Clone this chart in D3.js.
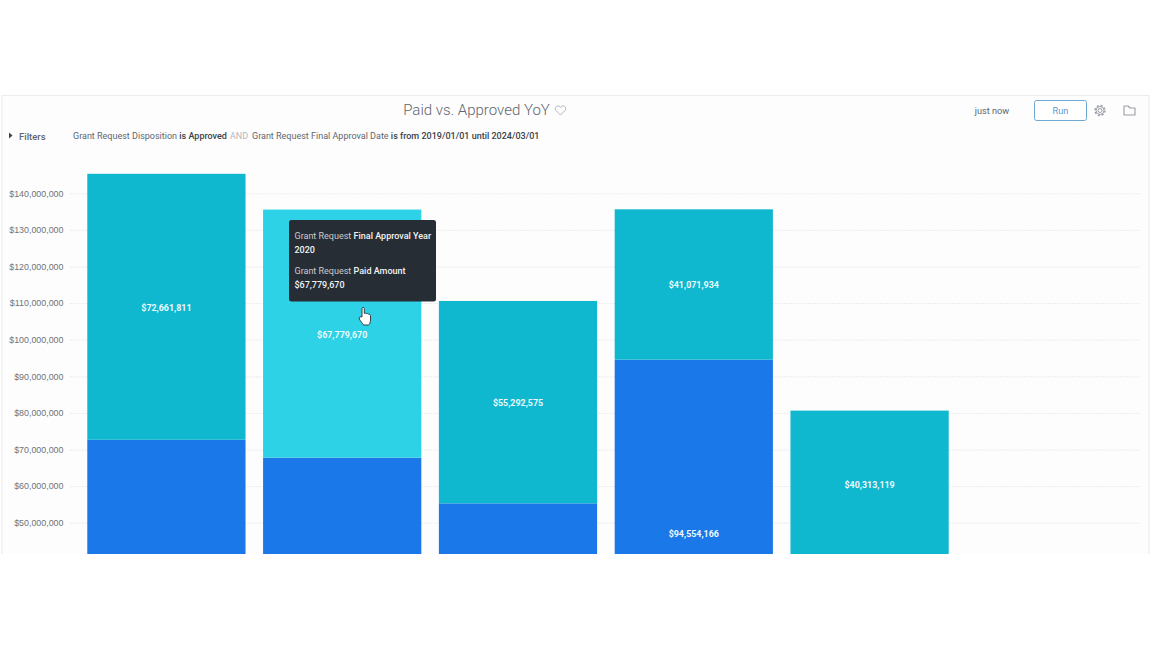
<!DOCTYPE html>
<html lang="en">
<head>
    <meta charset="UTF-8">
    <title>Paid vs. Approved YoY</title>
    <script src="https://d3js.org/d3.v7.min.js"></script>
    <style>
        html, body { margin: 0; padding: 0; background: #fff; overflow: hidden; }
        svg { display: block; font-family: Roboto, sans-serif; }
        .tick text { font-size: 8.9px; fill: #6f7479; }
        .tick line { stroke: #ebecee; stroke-dasharray: 2 1; }
        .bar-label { font-size: 8.9px; font-weight: 700; fill: #eef9fb; text-anchor: middle; }
    </style>
</head>
<body>
<svg id="chart" width="1152" height="648"></svg>
<script>
    // values, the last band has no bars
    const years = ["2019", "2020", "2021", "2022", "2023", "2024"];
    const paid = [72661811, 67779670, 55292575, 94554166, 40313119];
    const approved = [72661811, 67779670, 55292575, 41071934, 40313119];
    const tickValues = [50, 60, 70, 80, 90, 100, 110, 120, 130, 140].map(d => d * 1e6);
    const hoveredYear = "2020";

    const svg = d3.select("#chart");
    const money = d3.format("$,.0f");
    const cutY = 554; // the recording stops here

    const y = d3.scaleLinear().domain([0, 150e6]).range([705.7, 156.7]);
    const x = d3.scaleBand().domain(years).range([78.5, 1133.3]).paddingInner(0.1).paddingOuter(0.05);

    // panel
    svg.append("defs").append("clipPath").attr("id", "cut")
        .append("rect").attr("x", 0).attr("y", 90).attr("width", 1152).attr("height", cutY - 90);
    const panel = svg.append("g").attr("clip-path", "url(#cut)");
    panel.append("rect").attr("x", 2).attr("y", 95.5).attr("width", 1147).attr("height", 480)
        .attr("fill", "#fdfdfd").attr("stroke", "#ececec");

    // axis + grid
    const axis = panel.append("g").attr("transform", "translate(70,0)")
        .call(d3.axisLeft(y).tickValues(tickValues).tickFormat(money).tickSize(-1071).tickPadding(6.5));
    axis.select(".domain").remove();

    // stacked bars
    const rows = years.slice(0, paid.length).map((year, i) => ({ year, paid: paid[i], approved: approved[i] }));
    const bars = panel.selectAll(".year").data(rows).join("g").attr("class", "year");

    bars.append("rect")
        .attr("x", d => x(d.year))
        .attr("width", x.bandwidth())
        .attr("y", d => y(d.paid))
        .attr("height", d => y(0) - y(d.paid))
        .attr("fill", "#1a78e8");

    bars.append("rect")
        .attr("x", d => x(d.year))
        .attr("width", x.bandwidth())
        .attr("y", d => y(d.paid + d.approved))
        .attr("height", d => y(d.paid) - y(d.paid + d.approved))
        .attr("fill", d => d.year === hoveredYear ? "#2dd2e6" : "#0fb8cf");

    bars.append("text").attr("class", "bar-label")
        .attr("x", d => x(d.year) + x.bandwidth() / 2)
        .attr("y", d => y(d.paid + d.approved / 2) + 4)
        .text(d => money(d.approved));

    // only the blue labels that fall above the cut
    bars.filter(d => y(d.paid / 2) < cutY).append("text").attr("class", "bar-label")
        .attr("x", d => x(d.year) + x.bandwidth() / 2)
        .attr("y", d => y(d.paid / 2) + 4.5)
        .text(d => money(d.paid));

    // header
    svg.append("text").attr("x", 476.5).attr("y", 115).attr("text-anchor", "middle")
        .attr("font-size", 15).attr("font-weight", 300).attr("fill", "#5f6670").text("Paid vs. Approved YoY");
    svg.append("path").attr("transform", "translate(555,105.5)")
        .attr("d", "M5.5 9.5 L1 5 C-0.5 3 0.5 0.5 2.8 0.5 C4 0.5 5 1 5.5 2 C6 1 7 0.5 8.2 0.5 C10.5 0.5 11.5 3 10 5 Z")
        .attr("fill", "none").attr("stroke", "#a9adb3").attr("stroke-width", 0.9);

    svg.append("path").attr("d", "M9 132.5 L12.5 135.5 L9 138.5 Z").attr("fill", "#3c4148");
    svg.append("text").attr("x", 19).attr("y", 139.5).attr("font-size", 9.5).attr("font-weight", 500).attr("fill", "#5f6670").text("Filters");

    const filters = svg.append("text").attr("y", 138.5).attr("font-size", 9).attr("fill", "#5f6670");
    filters.append("tspan").attr("x", 73).text("Grant Request Disposition ");
    filters.append("tspan").attr("font-weight", 500).attr("fill", "#3c4148").text("is Approved");
    filters.append("tspan").attr("x", 230).attr("fill", "#b5b8bc").text("AND");
    filters.append("tspan").attr("x", 252).text("Grant Request Final Approval Date ");
    filters.append("tspan").attr("font-weight", 500).attr("fill", "#3c4148").text("is from 2019/01/01 until 2024/03/01");

    svg.append("text").attr("x", 992).attr("y", 114).attr("text-anchor", "middle")
        .attr("font-size", 9.2).attr("fill", "#5f6670").text("just now");

    svg.append("rect").attr("x", 1034.5).attr("y", 100.5).attr("width", 52).attr("height", 20).attr("rx", 2)
        .attr("fill", "#fff").attr("stroke", "#6fa9d2").attr("stroke-width", 1);
    svg.append("text").attr("x", 1060.5).attr("y", 113.5).attr("text-anchor", "middle")
        .attr("font-size", 9.2).attr("fill", "#5f9ccb").text("Run");

    // gear
    const gear = svg.append("g").attr("transform", "translate(1100,110.5)").attr("fill", "none").attr("stroke", "#9a9ea4");
    gear.append("circle").attr("r", 2).attr("stroke-width", 1);
    gear.append("circle").attr("r", 4).attr("stroke-width", 1);
    gear.append("circle").attr("r", 5).attr("stroke-width", 1.4).attr("stroke-dasharray", "2 1.93");

    // folder
    svg.append("path").attr("d", "M1124 106 H1128 L1130 108 H1135 V115 H1124 Z")
        .attr("fill", "none").attr("stroke", "#9a9ea4").attr("stroke-width", 1.1).attr("stroke-linejoin", "round");

    // tooltip for the hovered bar
    const hi = years.indexOf(hoveredYear);
    const tip = svg.append("g").attr("transform", "translate(289,220)");
    tip.append("rect").attr("width", 147).attr("height", 81.5).attr("rx", 2.5).attr("fill", "#262d35");
    const tipLine = (yy, parts) => {
        const t = tip.append("text").attr("x", 5.5).attr("y", yy).attr("font-size", 9);
        parts.forEach(p => t.append("tspan").attr("font-weight", p[1] ? 500 : 400).attr("fill", p[1] ? "#f2f3f4" : "#c9ccd0").text(p[0]));
    };
    tipLine(19, [["Grant Request ", 0], ["Final Approval Year", 1]]);
    tipLine(32.5, [[hoveredYear, 1]]);
    tipLine(54, [["Grant Request ", 0], ["Paid Amount", 1]]);
    tipLine(67.5, [[money(approved[hi]), 1]]);

    // hand cursor
    svg.append("path").attr("transform", "translate(358.5,307)")
        .attr("d", "M3.5 10 V1.6 C3.5 0 5.8 0 5.8 1.6 V6.5 C7 5.8 8 6 8.2 6.8 C9.3 6.3 10.2 6.7 10.4 7.4 C11.5 7.1 12 7.8 12 8.6 V13 C12 15.5 11 17.5 10 18 H5 C4 16.5 2 14 0.8 12 C0 10.4 2 9.2 3.5 10 Z")
        .attr("fill", "#fff").attr("stroke", "#2b2f34").attr("stroke-width", 0.9);
</script>
</body>
</html>
